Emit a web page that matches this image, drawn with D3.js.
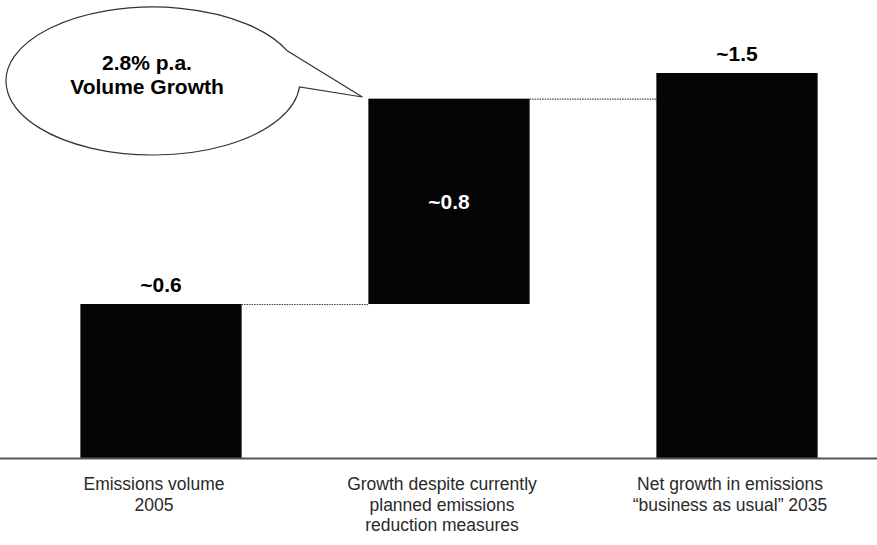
<!DOCTYPE html>
<html>
<head>
<meta charset="utf-8">
<script src="https://cdn.jsdelivr.net/npm/d3@7"></script>
<style>
  html, body { margin: 0; padding: 0; background: #fff; }
  svg { display: block; }
</style>
</head>
<body>
<svg id="chart" width="877" height="545"></svg>
<script>
// Waterfall: 2005 emissions, growth step, 2035 business-as-usual total
const categories = ["Emissions volume|2005",
                    "Growth despite currently|planned emissions|reduction measures",
                    "Net growth in emissions|\u201cbusiness as usual\u201d 2035"];
const stepValues = [0.6, 0.8, 1.5];
const valueLabels = ["~0.6", "~0.8", "~1.5"];
const barKinds = ["start", "delta", "total"];
const calloutLines = ["2.8% p.a.", "Volume Growth"];

const W = 877, H = 545;
const svg = d3.select("#chart");
const font = "'Liberation Sans', Arial, Helvetica, sans-serif";

// floating segments
let running = 0;
const bars = categories.map((c, i) => {
  let y0, y1;
  if (barKinds[i] === "start") { y0 = 0; y1 = stepValues[i]; running = y1; }
  else if (barKinds[i] === "delta") { y0 = running; y1 = running + stepValues[i]; running = y1; }
  else { y0 = 0; y1 = stepValues[i]; }
  return { cat: c, y0, y1, label: valueLabels[i], kind: barKinds[i] };
});

const x = d3.scaleBand().domain(categories).range([17, 881])
  .paddingInner(0.44).paddingOuter(0.22);
const y = d3.scaleLinear().domain([0, 1.5]).range([458, 73]);

// bars
svg.selectAll("rect.bar").data(bars).join("rect")
  .attr("class", "bar")
  .attr("x", d => x(d.cat))
  .attr("width", x.bandwidth())
  .attr("y", d => y(d.y1))
  .attr("height", d => y(d.y0) - y(d.y1))
  .attr("fill", "#050505");

// dotted connectors between bar tops
for (let i = 0; i < bars.length - 1; i++) {
  const v = bars[i].y1;
  svg.append("line")
    .attr("x1", x(bars[i].cat) + x.bandwidth())
    .attr("x2", x(bars[i + 1].cat))
    .attr("y1", y(v) + 0.5).attr("y2", y(v) + 0.5)
    .attr("stroke", "#444").attr("stroke-width", 1.2)
    .attr("stroke-dasharray", "1.5,1");
}

// baseline axis
const axis = d3.axisBottom(x).tickSize(0).tickFormat("");
svg.append("g").attr("transform", `translate(0,${y(0)})`).call(axis)
  .call(g => g.select(".domain").attr("d", `M0,0.5H${W}`)
    .attr("stroke", "#555").attr("stroke-width", 2));

// value labels
svg.selectAll("text.val").data(bars).join("text")
  .attr("class", "val")
  .attr("x", d => x(d.cat) + x.bandwidth() / 2)
  .attr("y", d => d.kind === "delta" ? (y(d.y0) + y(d.y1)) / 2 + 8 : y(d.y1) - 12)
  .attr("text-anchor", "middle")
  .attr("font-family", font).attr("font-weight", "bold").attr("font-size", 21)
  .attr("fill", d => d.kind === "delta" ? "#fff" : "#000")
  .text(d => d.label);

// category labels
const catG = svg.selectAll("text.cat").data(categories).join("text")
  .attr("class", "cat")
  .attr("x", d => x(d) + x.bandwidth() / 2 - 7)
  .attr("y", 490)
  .attr("text-anchor", "middle")
  .attr("font-family", font).attr("font-size", 17.5)
  .attr("fill", "#2a2a2a");
catG.selectAll("tspan").data(d => d.split("|")).join("tspan")
  .attr("x", function () { return d3.select(this.parentNode).attr("x"); })
  .attr("dy", (d, i) => i === 0 ? 0 : 20.5)
  .text(d => d);

// speech bubble pointing at the growth bar
const cx = 153, cy = 81, rx = 147, ry = 74;
const tipX = x(categories[1]) - 6, tipY = 97;
const a1 = -0.42, a2 = 0.08;
const p1 = [cx + rx * Math.cos(a1), cy + ry * Math.sin(a1)];
const p2 = [cx + rx * Math.cos(a2), cy + ry * Math.sin(a2)];
const bubblePath = `M${p2[0]},${p2[1]} A${rx},${ry} 0 1,1 ${p1[0]},${p1[1]} L${tipX},${tipY} Z`;
svg.append("path").attr("d", bubblePath)
  .attr("fill", "#fff").attr("stroke", "#333").attr("stroke-width", 1.2);

svg.selectAll("text.callout").data(calloutLines).join("text")
  .attr("class", "callout")
  .attr("x", 147).attr("y", (dd, i) => 70 + i * 24)
  .attr("text-anchor", "middle")
  .attr("font-family", font).attr("font-weight", "bold").attr("font-size", 21)
  .attr("fill", "#000")
  .text(dd => dd);
</script>
</body>
</html>
